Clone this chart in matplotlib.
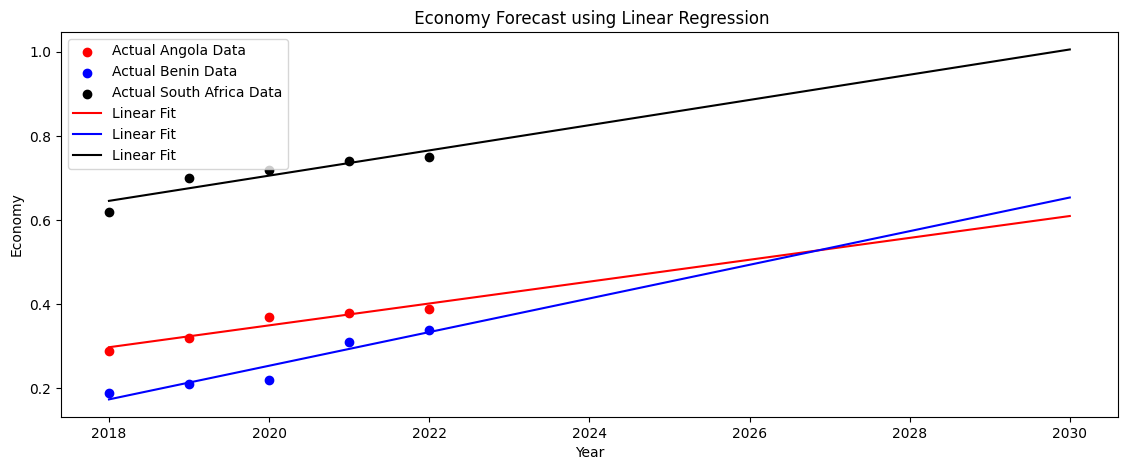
import numpy as np
import matplotlib
matplotlib.use('Agg')
import matplotlib.pyplot as plt

# data
years = np.array([2018, 2019, 2020, 2021, 2022])
angola = np.array([0.29, 0.32, 0.37, 0.38, 0.39])
benin = np.array([0.19, 0.21, 0.22, 0.31, 0.34])
south_africa = np.array([0.62, 0.70, 0.72, 0.74, 0.75])
forecast_years = np.arange(2018, 2031)

fig = plt.figure(figsize=(11.28, 4.7), dpi=100)
ax = fig.add_subplot(111)
fig.subplots_adjust(left=0.054, right=0.991, top=0.932, bottom=0.113)

ax.scatter(years, angola, color='red', label='Actual Angola Data')
ax.scatter(years, benin, color='blue', label='Actual Benin Data')
ax.scatter(years, south_africa, color='black', label='Actual South Africa Data')

# linear regression fits
for series, color in [(angola, 'red'), (benin, 'blue'), (south_africa, 'black')]:
    slope, intercept = np.polyfit(years, series, 1)
    ax.plot(forecast_years, slope * forecast_years + intercept, color=color, label='Linear Fit')

ax.set_title(' Economy Forecast using Linear Regression')
ax.set_xlabel('Year')
ax.set_ylabel('Economy')
ax.legend(loc='upper left')

fig.savefig('out.png', dpi=100)
